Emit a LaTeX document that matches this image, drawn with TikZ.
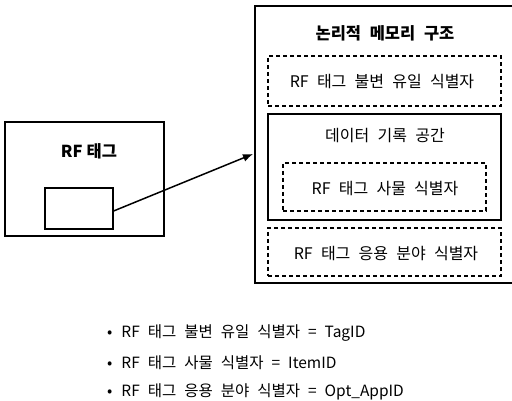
\documentclass[tikz,border=0pt]{standalone}
\usepackage{fontspec}
\setmainfont[WordSpace=2.3]{Noto Sans CJK KR}
\usetikzlibrary{arrows.meta}
\tikzset{
  box/.style={draw, line width=1.2pt, rectangle, inner sep=0pt},
  dbox/.style={draw, line width=1.4pt, rectangle, inner sep=0pt, dash pattern=on 4pt off 3pt},
  lbl/.style={font=\fontsize{16}{18}\selectfont, inner sep=0pt},
  ttl/.style={font=\fontsize{16.5}{18}\selectfont\bfseries, inner sep=0pt},
  bul/.style={font=\fontsize{15.5}{18}\selectfont, inner sep=0pt, anchor=west},
  conn/.style={line width=1.5pt, -{Latex[length=10pt,width=8pt]}}
}
\begin{document}
\begin{tikzpicture}[x=1pt,y=-1pt]
\useasboundingbox (0,0) rectangle (512,401);
% left tag
\node[box, minimum width=159pt, minimum height=114pt] (tag) at (84.5,179) {};
\node[ttl] (tagtitle) at (89,151) {RF\hspace{4pt}태그};
\node[box, minimum width=68pt, minimum height=41pt] (chip) at (79,208.5) {};
% memory structure
\node[box, minimum width=260pt, minimum height=277pt] (mem) at (385,144.5) {};
\node[ttl] (memtitle) at (385,33) {논리적 메모리 구조};
\node[dbox, minimum width=233pt, minimum height=50pt] (tagid) at (384.5,81) {};
\node[lbl] (tagidl) at (382,82) {RF 태그 불변 유일 식별자};
\node[box, minimum width=233pt, minimum height=106pt] (data) at (384.5,167) {};
\node[lbl] (datal) at (385,136) {데이터 기록 공간};
\node[dbox, minimum width=203pt, minimum height=48pt] (item) at (384.5,187) {};
\node[lbl] (iteml) at (385,189) {RF 태그 사물 식별자};
\node[dbox, minimum width=233pt, minimum height=48pt] (app) at (384.5,252) {};
\node[lbl] (appl) at (386,254) {RF 태그 응용 분야 식별자};
% arrow
\coordinate (arrowend) at (253,154);
\draw[conn] ([yshift=-2.5pt]chip.east) -- (arrowend);
% bullets
\node[bul] (b1) at (107,333) {•\hspace{9pt}RF 태그 불변 유일 식별자 = TagID};
\node[bul] (b2) at (107,363) {•\hspace{9pt}RF 태그 사물 식별자 = ItemID};
\node[bul] (b3) at (107,392) {•\hspace{9pt}RF 태그 응용 분야 식별자 = Opt\_AppID};
\end{tikzpicture}
\end{document}
